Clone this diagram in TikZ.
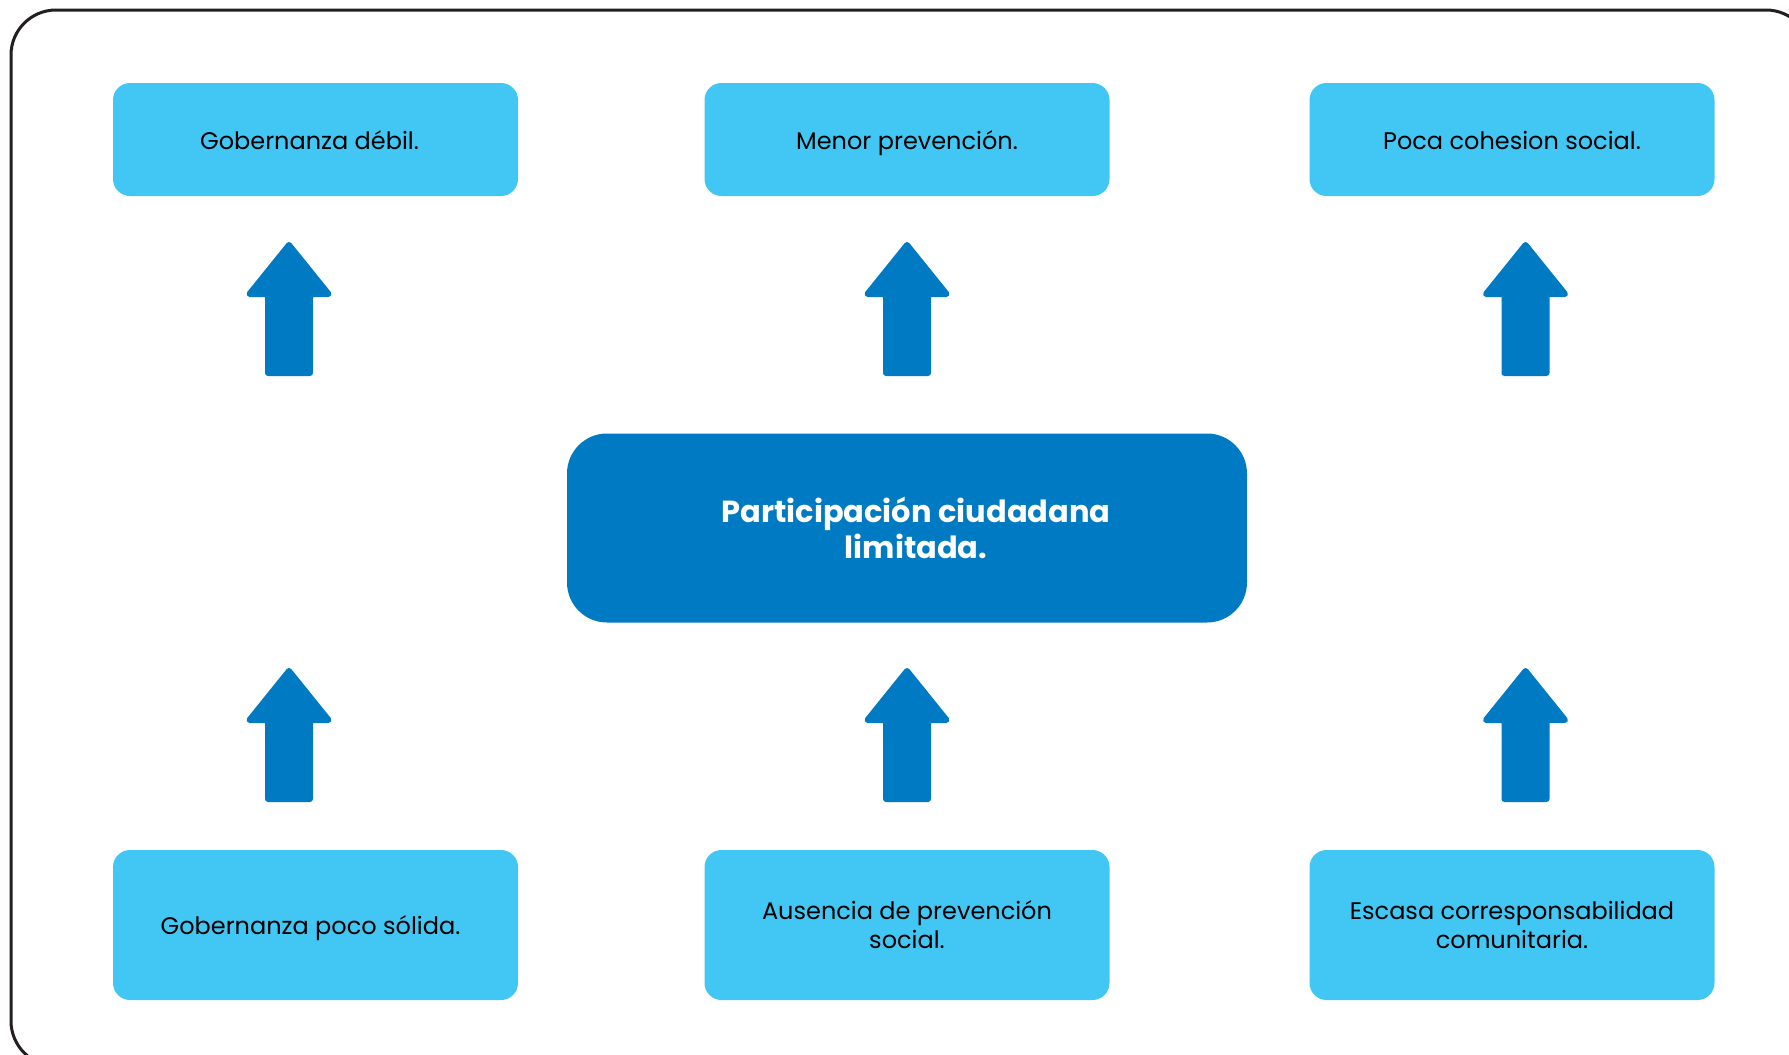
\documentclass[tikz,border=0pt]{standalone}
\usepackage{fontspec}
\setmainfont{Poppins}
\definecolor{lightbox}{HTML}{42C7F4}
\definecolor{darkbox}{HTML}{007AC2}
\definecolor{framec}{HTML}{231F20}
\begin{document}
\begin{tikzpicture}[x=1pt,y=-1pt,
  smallbox/.style={rectangle, fill=lightbox, rounded corners=17pt, minimum width=405pt,
     inner sep=0pt, outer sep=0pt, align=center, text=black,
     font=\fontsize{24pt}{29pt}\selectfont},
  oneline/.style={text height=19pt, text depth=0pt},
  bigbox/.style={rectangle, fill=darkbox, rounded corners=40pt, minimum width=680pt,
     minimum height=189pt, inner sep=0pt, outer sep=0pt},
  bigtext/.style={align=center, text=white, inner sep=0pt,
     font=\fontsize{30.5pt}{36pt}\selectfont\bfseries},
  blockarrow/.pic={
    \filldraw[darkbox, line width=6pt, line join=round] (0,3) -- (39.5,52) -- (21,52) -- (21,131)
      -- (-21,131) -- (-21,52) -- (-39.5,52) -- cycle;
  }]
\useasboundingbox (0,0) rectangle (1789,1055);
\begin{scope}
\clip (0,0) rectangle (1789,1055);
\draw[framec, line width=3pt, rounded corners=45pt] (11,10) rectangle (1811,1066);
\end{scope}

% top row
\node[smallbox, oneline, minimum height=113pt] (t1) at (315.5,139.5) {Gobernanza débil.\hspace*{12pt}};
\node[smallbox, oneline, minimum height=113pt] (t2) at (907,139.5) {Menor prevención.};
\node[smallbox, oneline, minimum height=113pt] (t3) at (1512,139.5) {Poca cohesion social.};

% centre
\node[bigbox] (c) at (907,528) {};
\node[bigtext] (ct) at (916,527.7) {Participación ciudadana\\limitada.};

% bottom row
\node[smallbox, oneline, minimum height=150pt] (b1) at (315.5,925) {Gobernanza poco sólida.\hspace*{10pt}};
\node[smallbox, minimum height=150pt] (b2) at (907,925) {Ausencia de prevención\\social.};
\node[smallbox, minimum height=150pt] (b3) at (1512,925) {Escasa corresponsabilidad\\comunitaria.};

% arrows
\coordinate (a1) at (289,242);
\coordinate (a2) at (907,242);
\coordinate (a3) at (1525.5,242);
\coordinate (a4) at (289,668);
\coordinate (a5) at (907,668);
\coordinate (a6) at (1525.5,668);
\foreach \a in {a1,a2,a3,a4,a5,a6} \pic at (\a) {blockarrow};
\end{tikzpicture}
\end{document}
